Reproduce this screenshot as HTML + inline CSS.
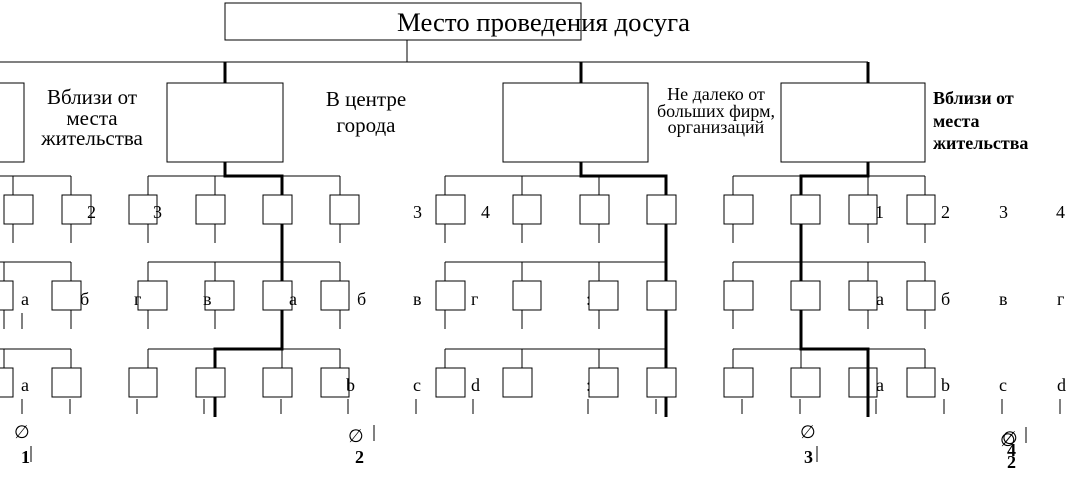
<!DOCTYPE html>
<html><head><meta charset="utf-8"><style>
html,body{margin:0;padding:0;background:#fff;width:1080px;height:483px;overflow:hidden}
svg{display:block}
text{font-family:"Liberation Serif",serif;fill:#000}
</style></head><body>
<svg width="1080" height="483" viewBox="0 0 1080 483" xmlns="http://www.w3.org/2000/svg">
<g stroke="#000" stroke-width="1" fill="none" shape-rendering="crispEdges">
<line x1="407" y1="40" x2="407" y2="62"/>
<line x1="0" y1="62" x2="868" y2="62"/>
<line x1="0" y1="176" x2="71" y2="176"/><line x1="13" y1="176" x2="13" y2="195"/><line x1="71" y1="176" x2="71" y2="195"/>
<line x1="13" y1="224" x2="13" y2="243"/><line x1="71" y1="224" x2="71" y2="243"/>
<line x1="0" y1="262" x2="71" y2="262"/><line x1="4" y1="262" x2="4" y2="281"/><line x1="71" y1="262" x2="71" y2="281"/>
<line x1="4" y1="310" x2="4" y2="329"/><line x1="71" y1="310" x2="71" y2="329"/><line x1="22" y1="313" x2="22" y2="329"/>
<line x1="0" y1="349" x2="71" y2="349"/><line x1="4" y1="349" x2="4" y2="368"/><line x1="71" y1="349" x2="71" y2="368"/>
<line x1="22" y1="399" x2="22" y2="414"/><line x1="70" y1="399" x2="70" y2="414"/>
<line x1="31" y1="446" x2="31" y2="462"/>
<line x1="148" y1="176" x2="340" y2="176"/>
<line x1="148" y1="176" x2="148" y2="195"/><line x1="215" y1="176" x2="215" y2="195"/><line x1="340" y1="176" x2="340" y2="195"/>
<line x1="148" y1="224" x2="148" y2="243"/><line x1="215" y1="224" x2="215" y2="243"/><line x1="340" y1="224" x2="340" y2="243"/>
<line x1="148" y1="262" x2="340" y2="262"/>
<line x1="148" y1="262" x2="148" y2="281"/><line x1="215" y1="262" x2="215" y2="281"/><line x1="340" y1="262" x2="340" y2="281"/>
<line x1="148" y1="310" x2="148" y2="329"/><line x1="215" y1="310" x2="215" y2="329"/><line x1="340" y1="310" x2="340" y2="329"/>
<line x1="148" y1="349" x2="340" y2="349"/>
<line x1="148" y1="349" x2="148" y2="368"/><line x1="282" y1="349" x2="282" y2="368"/><line x1="340" y1="349" x2="340" y2="368"/>
<line x1="137" y1="399" x2="137" y2="414"/><line x1="204" y1="399" x2="204" y2="414"/><line x1="281" y1="399" x2="281" y2="414"/><line x1="348" y1="399" x2="348" y2="414"/>
<line x1="416" y1="399" x2="416" y2="414"/>
<line x1="374" y1="425" x2="374" y2="441"/>
<line x1="445" y1="176" x2="667" y2="176"/>
<line x1="445" y1="176" x2="445" y2="195"/><line x1="522" y1="176" x2="522" y2="195"/><line x1="599" y1="176" x2="599" y2="195"/>
<line x1="445" y1="224" x2="445" y2="243"/><line x1="522" y1="224" x2="522" y2="243"/><line x1="599" y1="224" x2="599" y2="243"/>
<line x1="445" y1="262" x2="667" y2="262"/>
<line x1="445" y1="262" x2="445" y2="281"/><line x1="522" y1="262" x2="522" y2="281"/><line x1="599" y1="262" x2="599" y2="281"/>
<line x1="445" y1="310" x2="445" y2="329"/><line x1="522" y1="310" x2="522" y2="329"/><line x1="599" y1="310" x2="599" y2="329"/>
<line x1="445" y1="349" x2="667" y2="349"/>
<line x1="445" y1="349" x2="445" y2="368"/><line x1="522" y1="349" x2="522" y2="368"/><line x1="599" y1="349" x2="599" y2="368"/>
<line x1="473" y1="399" x2="473" y2="414"/><line x1="588" y1="399" x2="588" y2="414"/><line x1="656" y1="399" x2="656" y2="414"/>
<line x1="733" y1="176" x2="925" y2="176"/>
<line x1="733" y1="176" x2="733" y2="195"/><line x1="868" y1="176" x2="868" y2="195"/><line x1="925" y1="176" x2="925" y2="195"/>
<line x1="733" y1="224" x2="733" y2="243"/><line x1="868" y1="224" x2="868" y2="243"/><line x1="925" y1="224" x2="925" y2="243"/>
<line x1="733" y1="262" x2="925" y2="262"/>
<line x1="733" y1="262" x2="733" y2="281"/><line x1="868" y1="262" x2="868" y2="281"/><line x1="925" y1="262" x2="925" y2="281"/>
<line x1="733" y1="310" x2="733" y2="329"/><line x1="868" y1="310" x2="868" y2="329"/><line x1="925" y1="310" x2="925" y2="329"/>
<line x1="733" y1="349" x2="925" y2="349"/>
<line x1="733" y1="349" x2="733" y2="368"/><line x1="801" y1="349" x2="801" y2="368"/><line x1="925" y1="349" x2="925" y2="368"/>
<line x1="742" y1="399" x2="742" y2="414"/><line x1="800" y1="399" x2="800" y2="414"/><line x1="876" y1="399" x2="876" y2="414"/>
<line x1="944" y1="399" x2="944" y2="414"/><line x1="1002" y1="399" x2="1002" y2="414"/><line x1="1060" y1="399" x2="1060" y2="414"/>
<line x1="817" y1="446" x2="817" y2="462"/>
<line x1="1026" y1="427" x2="1026" y2="443"/>
</g>
<g stroke="#000" stroke-width="3" fill="none">
<path d="M225 62 V83 M225 162 V176 H282 V349 H215 V417"/>
<path d="M581 62 V83 M581 162 V176 H666 V417"/>
<path d="M868 62 V83 M868 162 V176 H801 V349 H868 V417"/>
</g>
<g stroke="#000" stroke-width="1" fill="#fff" shape-rendering="crispEdges">
<rect x="225" y="3" width="356" height="37" fill="none"/>
<rect x="-10" y="83" width="34" height="79"/>
<rect x="167" y="83" width="116" height="79"/>
<rect x="503" y="83" width="145" height="79"/>
<rect x="781" y="83" width="144" height="79"/>
<rect x="4" y="195" width="29" height="29"/><rect x="62" y="195" width="29" height="29"/>
<rect x="-16" y="281" width="29" height="29"/><rect x="52" y="281" width="29" height="29"/>
<rect x="-16" y="368" width="29" height="29"/><rect x="52" y="368" width="29" height="29"/>
<rect x="129" y="195" width="28" height="29"/><rect x="196" y="195" width="29" height="29"/><rect x="263" y="195" width="29" height="29"/><rect x="330" y="195" width="29" height="29"/>
<rect x="138" y="281" width="29" height="29"/><rect x="205" y="281" width="29" height="29"/><rect x="263" y="281" width="29" height="29"/><rect x="321" y="281" width="28" height="29"/>
<rect x="129" y="368" width="28" height="29"/><rect x="196" y="368" width="29" height="29"/><rect x="263" y="368" width="29" height="29"/><rect x="321" y="368" width="28" height="29"/>
<rect x="436" y="195" width="29" height="29"/><rect x="513" y="195" width="28" height="29"/><rect x="580" y="195" width="29" height="29"/><rect x="647" y="195" width="29" height="29"/>
<rect x="436" y="281" width="29" height="29"/><rect x="513" y="281" width="28" height="29"/><rect x="589" y="281" width="29" height="29"/><rect x="647" y="281" width="29" height="29"/>
<rect x="436" y="368" width="29" height="29"/><rect x="503" y="368" width="29" height="29"/><rect x="589" y="368" width="29" height="29"/><rect x="647" y="368" width="29" height="29"/>
<rect x="724" y="195" width="29" height="29"/><rect x="791" y="195" width="29" height="29"/><rect x="849" y="195" width="28" height="29"/><rect x="907" y="195" width="28" height="29"/>
<rect x="724" y="281" width="29" height="29"/><rect x="791" y="281" width="29" height="29"/><rect x="849" y="281" width="28" height="29"/><rect x="907" y="281" width="28" height="29"/>
<rect x="724" y="368" width="29" height="29"/><rect x="791" y="368" width="29" height="29"/><rect x="849" y="368" width="28" height="29"/><rect x="907" y="368" width="28" height="29"/>
</g>
<line x1="868" y1="368" x2="868" y2="417" stroke="#000" stroke-width="3"/>
<text x="397" y="31" font-size="26" textLength="293" lengthAdjust="spacingAndGlyphs">Место проведения досуга</text>
<g font-size="21" text-anchor="middle">
<text x="92" y="104">Вблизи от</text><text x="92" y="125">места</text><text x="92" y="145">жительства</text>
<text x="366" y="106">В центре</text><text x="366" y="132">города</text>
</g>
<g font-size="18" text-anchor="middle">
<text x="716" y="100">Не  далеко от</text><text x="716" y="117">больших фирм,</text><text x="716" y="133">организаций</text>
</g>
<g font-size="18" font-weight="bold">
<text x="933" y="104">Вблизи от</text><text x="933" y="127">места</text><text x="933" y="149">жительства</text>
</g>
<g font-size="18">
<text x="87" y="218">2</text><text x="153" y="218">3</text><text x="413" y="218">3</text><text x="481" y="218">4</text>
<text x="875" y="218">1</text><text x="941" y="218">2</text><text x="999" y="218">3</text><text x="1056" y="218">4</text>
<text x="21" y="305">а</text><text x="80" y="305">б</text><text x="134" y="305">г</text><text x="203" y="305">в</text><text x="289" y="305">а</text><text x="357" y="305">б</text>
<text x="413" y="305">в</text><text x="471" y="305">г</text><text x="586" y="305">:</text>
<text x="876" y="305">а</text><text x="941" y="305">б</text><text x="999" y="305">в</text><text x="1057" y="305">г</text>
<text x="21" y="391">а</text><text x="346" y="391">b</text><text x="413" y="391">c</text><text x="471" y="391">d</text><text x="586" y="391">:</text>
<text x="876" y="391">а</text><text x="941" y="391">b</text><text x="999" y="391">c</text><text x="1057" y="391">d</text>
<text x="14" y="438">∅</text><text x="348" y="442">∅</text><text x="800" y="438">∅</text><text x="1000" y="446">∅</text><text x="1002" y="444">∅</text>
</g>
<g font-size="18" font-weight="bold">
<text x="21" y="463">1</text><text x="355" y="463">2</text><text x="804" y="463">3</text><text x="1007" y="456">4</text><text x="1007" y="468">2</text>
</g>
</svg>
</body></html>
